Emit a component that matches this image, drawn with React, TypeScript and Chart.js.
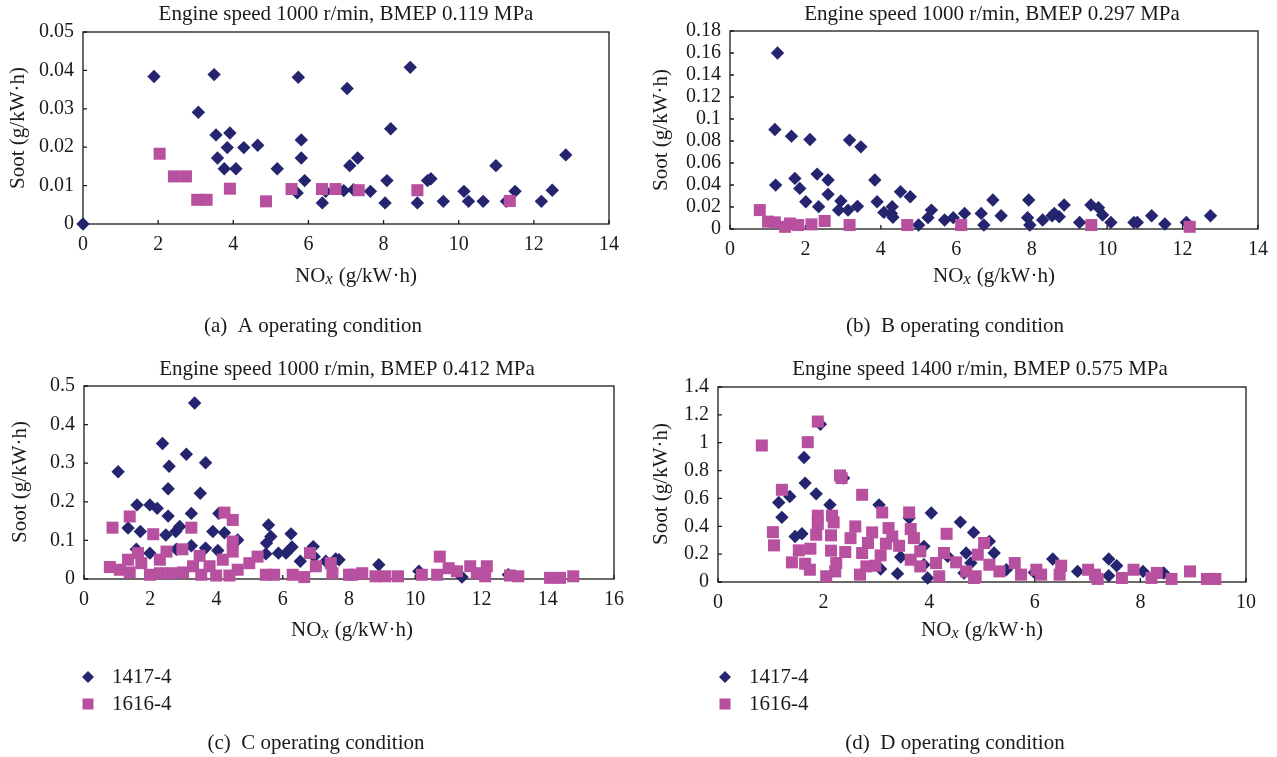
import React, { useEffect, useRef } from 'react';
import { Chart, registerables } from 'chart.js';

Chart.register(...registerables);

// ---------- data: [NOx (g/kW·h), Soot (g/kW·h)] ----------
const SERIES_NAMES = ['1417-4', '1616-4'];

const A_1417: [number, number][] = [
  [0, 0], [1.89, 0.0384], [3.49, 0.0389], [5.73, 0.0382], [7.03, 0.0353], [8.71, 0.0408],
  [3.07, 0.0291], [8.19, 0.0248], [3.54, 0.0232], [3.91, 0.0237], [5.81, 0.0219],
  [3.84, 0.0199], [4.28, 0.0199], [4.65, 0.0205], [3.58, 0.0172], [5.81, 0.0172],
  [7.31, 0.0172], [12.85, 0.018], [3.76, 0.0144], [4.07, 0.0144], [5.17, 0.0144],
  [7.1, 0.0152], [10.99, 0.0152], [5.9, 0.0113], [8.09, 0.0113], [9.17, 0.0113],
  [9.26, 0.0118], [5.7, 0.0081], [6.46, 0.0085], [6.94, 0.0087], [7.2, 0.0089],
  [7.65, 0.0085], [10.14, 0.0085], [11.5, 0.0085], [12.49, 0.0088], [6.37, 0.0055],
  [8.04, 0.0055], [8.9, 0.0055], [9.59, 0.0059], [10.26, 0.0059], [10.65, 0.0059],
  [11.27, 0.0059], [12.2, 0.0059],
];
const A_1616: [number, number][] = [
  [2.04, 0.0183], [2.42, 0.0124], [2.74, 0.0124], [3.04, 0.0063], [3.29, 0.0063],
  [3.91, 0.0092], [4.87, 0.0059], [5.55, 0.0091], [6.36, 0.0091], [6.72, 0.0091],
  [7.34, 0.0088], [8.9, 0.0088], [11.36, 0.006],
];

const B_1417: [number, number][] = [
  [1.26, 0.16], [1.19, 0.0905], [1.63, 0.0844], [2.12, 0.0814], [3.17, 0.0808], [3.47, 0.0747],
  [1.21, 0.0399], [1.72, 0.046], [1.85, 0.0369], [2.31, 0.0499], [2.6, 0.0445], [2.01, 0.0248],
  [2.35, 0.0203], [2.6, 0.0315], [2.94, 0.0254], [2.88, 0.0172], [3.13, 0.0172], [3.38, 0.0206],
  [3.84, 0.0445], [3.9, 0.0248], [4.08, 0.0151], [4.28, 0.0142], [4.3, 0.0203], [4.32, 0.0106],
  [4.52, 0.0339], [4.78, 0.0293], [5.0, 0.0036], [5.25, 0.0103], [5.34, 0.0172], [5.69, 0.0082],
  [5.92, 0.0103], [6.22, 0.0142], [6.66, 0.0142], [6.73, 0.0036], [6.97, 0.0263], [7.19, 0.0121],
  [7.92, 0.0263], [7.89, 0.0103], [7.95, 0.0036], [8.29, 0.0082], [8.54, 0.0121], [8.73, 0.0112],
  [8.86, 0.0218], [8.6, 0.0142], [9.27, 0.006], [9.57, 0.0218], [9.77, 0.0194], [9.88, 0.0127],
  [10.1, 0.006], [10.71, 0.006], [10.8, 0.006], [11.18, 0.0121], [11.53, 0.0045], [12.1, 0.006],
  [12.74, 0.0121],
];
const B_1616: [number, number][] = [
  [0.79, 0.0172], [1.01, 0.0067], [1.19, 0.006], [1.46, 0.002], [1.59, 0.005], [1.81, 0.0036],
  [2.16, 0.0042], [2.51, 0.0073], [3.17, 0.0036], [4.7, 0.0036], [6.13, 0.0036], [9.58, 0.0036],
  [12.19, 0.002],
];

const C_1417: [number, number][] = [
  [3.34, 0.456], [2.37, 0.351], [3.09, 0.323], [2.57, 0.292], [3.67, 0.301], [1.03, 0.278],
  [2.54, 0.234], [3.51, 0.222], [1.6, 0.192], [1.99, 0.192], [2.21, 0.183], [2.54, 0.163],
  [3.24, 0.17], [4.07, 0.17], [1.33, 0.132], [1.7, 0.123], [2.47, 0.114], [2.77, 0.123],
  [2.89, 0.136], [3.89, 0.123], [4.24, 0.12], [4.64, 0.101], [1.58, 0.077], [1.99, 0.067],
  [2.79, 0.077], [3.24, 0.086], [3.67, 0.08], [4.04, 0.074], [5.57, 0.14], [5.64, 0.11],
  [5.51, 0.093], [5.49, 0.065], [5.87, 0.067], [6.1, 0.067], [6.25, 0.117], [6.28, 0.083],
  [6.53, 0.046], [6.92, 0.084], [6.95, 0.058], [7.3, 0.046], [7.6, 0.052], [7.7, 0.05],
  [8.9, 0.037], [10.11, 0.02], [11.41, 0.005], [12.81, 0.011],
];
const C_1616: [number, number][] = [
  [0.86, 0.133], [1.38, 0.162], [2.09, 0.116], [3.24, 0.133], [4.24, 0.172], [4.49, 0.153],
  [4.49, 0.097], [4.49, 0.071], [4.19, 0.05], [1.63, 0.067], [2.49, 0.071], [2.97, 0.077],
  [2.29, 0.05], [3.49, 0.06], [1.33, 0.05], [0.78, 0.031], [1.08, 0.024], [1.38, 0.017],
  [1.73, 0.041], [1.99, 0.011], [2.29, 0.015], [2.64, 0.015], [2.99, 0.017], [3.29, 0.033],
  [3.54, 0.011], [3.79, 0.033], [3.99, 0.009], [4.39, 0.009], [4.64, 0.024], [4.99, 0.041],
  [5.24, 0.058], [5.49, 0.011], [5.74, 0.011], [6.3, 0.011], [6.65, 0.005], [6.82, 0.067],
  [7.0, 0.033], [7.45, 0.041], [7.5, 0.015], [8.0, 0.011], [8.1, 0.011], [8.4, 0.015],
  [8.8, 0.007], [9.1, 0.007], [9.48, 0.007], [10.2, 0.011], [10.66, 0.011], [10.74, 0.058],
  [11.01, 0.028], [11.26, 0.02], [11.66, 0.033], [11.86, 0.015], [12.11, 0.007], [12.16, 0.033],
  [12.86, 0.009], [13.11, 0.007], [14.07, 0.003], [14.37, 0.003], [14.77, 0.007],
];

const D_1417: [number, number][] = [
  [1.94, 1.133], [1.63, 0.894], [1.65, 0.71], [1.86, 0.633], [1.36, 0.614], [1.15, 0.571],
  [1.21, 0.464], [2.38, 0.746], [2.12, 0.554], [3.05, 0.554], [3.62, 0.459], [4.04, 0.495],
  [4.59, 0.43], [4.84, 0.356], [1.46, 0.327], [1.59, 0.346], [3.9, 0.256], [3.46, 0.179],
  [3.4, 0.06], [3.08, 0.093], [3.97, 0.029], [3.9, 0.124], [4.7, 0.208], [4.66, 0.065],
  [4.35, 0.184], [5.14, 0.292], [5.23, 0.208], [5.46, 0.088], [6.34, 0.165], [6.81, 0.076],
  [7.4, 0.165], [7.55, 0.117], [7.4, 0.045], [8.05, 0.076], [8.44, 0.065], [4.79, 0.136],
  [5.99, 0.069],
];
const D_1616: [number, number][] = [
  [1.89, 1.152], [0.83, 0.98], [1.7, 1.004], [2.31, 0.765], [2.34, 0.746], [1.21, 0.662],
  [2.73, 0.626], [1.89, 0.476], [2.16, 0.476], [2.19, 0.428], [1.89, 0.416], [3.11, 0.499],
  [3.62, 0.499], [2.6, 0.399], [1.04, 0.358], [1.06, 0.263], [1.86, 0.339], [2.14, 0.335],
  [2.51, 0.315], [2.92, 0.356], [3.23, 0.387], [3.65, 0.38], [3.71, 0.315], [4.33, 0.346],
  [2.84, 0.28], [3.3, 0.327], [3.43, 0.26], [3.18, 0.275], [1.53, 0.227], [1.75, 0.239],
  [2.14, 0.225], [2.41, 0.215], [2.73, 0.208], [3.08, 0.191], [1.4, 0.141], [1.65, 0.131],
  [1.74, 0.088], [2.24, 0.136], [2.22, 0.076], [2.05, 0.041], [2.69, 0.053], [2.81, 0.112],
  [2.98, 0.117], [3.65, 0.16], [3.83, 0.22], [3.83, 0.112], [4.13, 0.136], [4.19, 0.041],
  [4.28, 0.208], [4.51, 0.141], [4.7, 0.076], [4.85, 0.029], [4.92, 0.196], [5.04, 0.28],
  [5.14, 0.124], [5.33, 0.076], [4.88, 0.041], [5.62, 0.136], [5.74, 0.053], [6.03, 0.088],
  [6.12, 0.053], [6.5, 0.117], [6.47, 0.053], [7.01, 0.088], [7.14, 0.053], [7.19, 0.022],
  [7.65, 0.029], [7.87, 0.088], [8.21, 0.029], [8.31, 0.065], [8.59, 0.022], [8.94, 0.076],
  [9.26, 0.022], [9.42, 0.022],
];

const TITLES = [
  'Engine speed 1000 r/min, BMEP 0.119 MPa',
  'Engine speed 1000 r/min, BMEP 0.297 MPa',
  'Engine speed 1000 r/min, BMEP 0.412 MPa',
  'Engine speed 1400 r/min, BMEP 0.575 MPa',
];
const CAPTIONS = [
  '(a)  A operating condition',
  '(b)  B operating condition',
  '(c)  C operating condition',
  '(d)  D operating condition',
];
const Y_TITLE = 'Soot (g/kW·h)';
const X_TITLE_MAIN = 'NO';
const X_TITLE_SUB = 'x';
const X_TITLE_REST = ' (g/kW·h)';

// ---------- layout / style ----------
const W = 1277;
const H = 757;
const NAVY = '#25246f';
const PINK = '#b7519f';
const INK = '#1a1a1a';
const FAMILY = '"Liberation Serif", "Times New Roman", serif';
const TXT = 21;
const TICK = 20;
const Y_W = 70;
const X_H = 40;

type Panel = {
  key: string;
  area: { l: number; r: number; t: number; b: number };
  xMax: number; xStep: number; yMax: number; yStep: number;
  title: string; titleX: number; titleY: number;
  xTitleX: number; xTitleY: number;
  yTitleX: number; yTitleY: number;
  caption: string; capX: number; capY: number;
  legend: null | { mx: number; tx: number; y1: number; y2: number };
  s1: [number, number][]; s2: [number, number][];
};

const PANELS: Panel[] = [
  {
    key: 'a', area: { l: 83, r: 609, t: 32, b: 224 },
    xMax: 14, xStep: 2, yMax: 0.05, yStep: 0.01,
    title: TITLES[0], titleX: 346, titleY: 14,
    xTitleX: 356, xTitleY: 276, yTitleX: 18, yTitleY: 128,
    caption: CAPTIONS[0], capX: 313, capY: 326, legend: null,
    s1: A_1417, s2: A_1616,
  },
  {
    key: 'b', area: { l: 730, r: 1259, t: 31, b: 229 },
    xMax: 14, xStep: 2, yMax: 0.18, yStep: 0.02,
    title: TITLES[1], titleX: 992, titleY: 14,
    xTitleX: 994, xTitleY: 276, yTitleX: 661, yTitleY: 130,
    caption: CAPTIONS[1], capX: 955, capY: 326, legend: null,
    s1: B_1417, s2: B_1616,
  },
  {
    key: 'c', area: { l: 84, r: 614, t: 386, b: 579 },
    xMax: 16, xStep: 2, yMax: 0.5, yStep: 0.1,
    title: TITLES[2], titleX: 347, titleY: 369,
    xTitleX: 352, xTitleY: 630, yTitleX: 20, yTitleY: 482,
    caption: CAPTIONS[2], capX: 316, capY: 743,
    legend: { mx: 88, tx: 112, y1: 677, y2: 704 },
    s1: C_1417, s2: C_1616,
  },
  {
    key: 'd', area: { l: 718, r: 1246, t: 387, b: 582 },
    xMax: 10, xStep: 2, yMax: 1.4, yStep: 0.2,
    title: TITLES[3], titleX: 980, titleY: 369,
    xTitleX: 982, xTitleY: 630, yTitleX: 661, yTitleY: 484,
    caption: CAPTIONS[3], capX: 955, capY: 743,
    legend: { mx: 725, tx: 749, y1: 677, y2: 704 },
    s1: D_1417, s2: D_1616,
  },
];

const fmt = (v: number | string) => String(parseFloat(Number(v).toFixed(4)));

function drawDiamond(ctx: CanvasRenderingContext2D, x: number, y: number, r: number) {
  ctx.beginPath();
  ctx.moveTo(x - r, y);
  ctx.lineTo(x, y - r);
  ctx.lineTo(x + r, y);
  ctx.lineTo(x, y + r);
  ctx.closePath();
  ctx.fill();
}

function makePlugin(p: Panel) {
  return {
    id: 'panelDecor' + p.key,
    beforeDatasetsDraw(chart: any) {
      const { ctx, chartArea: ca } = chart;
      const xs = chart.scales.x;
      const ys = chart.scales.y;
      ctx.save();
      ctx.strokeStyle = INK;
      ctx.lineWidth = 1.3;
      ctx.strokeRect(ca.left, ca.top, ca.right - ca.left, ca.bottom - ca.top);
      ctx.beginPath();
      xs.ticks.forEach((t: any) => {
        const px = xs.getPixelForValue(t.value);
        ctx.moveTo(px, ca.bottom);
        ctx.lineTo(px, ca.bottom - 4);
      });
      ys.ticks.forEach((t: any) => {
        const py = ys.getPixelForValue(t.value);
        ctx.moveTo(ca.left, py);
        ctx.lineTo(ca.left + 4, py);
      });
      ctx.stroke();
      ctx.restore();
    },
    afterDraw(chart: any) {
      const ctx: CanvasRenderingContext2D = chart.ctx;
      ctx.save();
      ctx.fillStyle = INK;
      ctx.textBaseline = 'middle';
      ctx.font = `${TXT}px ${FAMILY}`;
      // title
      ctx.textAlign = 'center';
      ctx.fillText(p.title, p.titleX, p.titleY);
      // caption
      ctx.fillText(p.caption, p.capX, p.capY);
      // x axis title with subscript
      ctx.textAlign = 'left';
      const mainFont = `${TXT}px ${FAMILY}`;
      const subFont = `italic ${Math.round(TXT * 0.75)}px ${FAMILY}`;
      ctx.font = mainFont;
      const w1 = ctx.measureText(X_TITLE_MAIN).width;
      const w3 = ctx.measureText(X_TITLE_REST).width;
      ctx.font = subFont;
      const w2 = ctx.measureText(X_TITLE_SUB).width + 1;
      const total = w1 + w2 + w3;
      const x0 = p.xTitleX - total / 2;
      ctx.font = mainFont;
      ctx.fillText(X_TITLE_MAIN, x0, p.xTitleY);
      ctx.font = subFont;
      ctx.fillText(X_TITLE_SUB, x0 + w1, p.xTitleY + 4);
      ctx.font = mainFont;
      ctx.fillText(X_TITLE_REST, x0 + w1 + w2, p.xTitleY);
      // y axis title
      ctx.save();
      ctx.translate(p.yTitleX, p.yTitleY);
      ctx.rotate(-Math.PI / 2);
      ctx.textAlign = 'center';
      ctx.fillText(Y_TITLE, 0, 0);
      ctx.restore();
      // legend
      if (p.legend) {
        const L = p.legend;
        ctx.fillStyle = NAVY;
        drawDiamond(ctx, L.mx, L.y1, 6);
        ctx.fillStyle = PINK;
        ctx.fillRect(L.mx - 5.5, L.y2 - 5.5, 11, 11);
        ctx.fillStyle = INK;
        ctx.textAlign = 'left';
        ctx.font = mainFont;
        ctx.fillText(SERIES_NAMES[0], L.tx, L.y1);
        ctx.fillText(SERIES_NAMES[1], L.tx, L.y2);
      }
      ctx.restore();
    },
  };
}

function buildConfig(p: Panel): any {
  const tickFont = { family: FAMILY, size: TICK };
  return {
    type: 'scatter',
    data: {
      datasets: [
        {
          label: SERIES_NAMES[0],
          data: p.s1.map(([x, y]) => ({ x, y })),
          pointStyle: 'rectRot',
          pointRadius: 6.7,
          pointHoverRadius: 6.7,
          backgroundColor: NAVY,
          pointBackgroundColor: NAVY,
          borderWidth: 0,
          pointBorderWidth: 0,
          order: 2,
          clip: false,
        },
        {
          label: SERIES_NAMES[1],
          data: p.s2.map(([x, y]) => ({ x, y })),
          pointStyle: 'rect',
          pointRadius: 8.5,
          pointHoverRadius: 8.5,
          backgroundColor: PINK,
          pointBackgroundColor: PINK,
          borderWidth: 0,
          pointBorderWidth: 0,
          order: 1,
          clip: false,
        },
      ],
    },
    options: {
      responsive: false,
      animation: false,
      devicePixelRatio: 1,
      events: [],
      layout: {
        padding: {
          left: p.area.l - Y_W,
          right: W - p.area.r,
          top: p.area.t,
          bottom: H - p.area.b - X_H,
        },
      },
      plugins: {
        legend: { display: false },
        tooltip: { enabled: false },
        title: { display: false },
      },
      scales: {
        x: {
          type: 'linear',
          min: 0,
          max: p.xMax,
          grid: { display: false, drawTicks: false },
          border: { display: false },
          ticks: {
            stepSize: p.xStep,
            autoSkip: false,
            maxRotation: 0,
            color: INK,
            font: tickFont,
            padding: 9,
            callback: (v: number) => fmt(v),
          },
          afterFit: (s: any) => { s.height = X_H; },
        },
        y: {
          type: 'linear',
          min: 0,
          max: p.yMax,
          grid: { display: false, drawTicks: false },
          border: { display: false },
          ticks: {
            stepSize: p.yStep,
            autoSkip: false,
            color: INK,
            font: tickFont,
            padding: 9,
            callback: (v: number) => fmt(v),
          },
          afterFit: (s: any) => { s.width = Y_W; },
        },
      },
    },
    plugins: [makePlugin(p)],
  };
}

function PanelChart({ p }: { p: Panel }) {
  const ref = useRef<HTMLCanvasElement | null>(null);
  useEffect(() => {
    if (!ref.current) return;
    const chart = new Chart(ref.current, buildConfig(p));
    return () => chart.destroy();
  }, [p]);
  return (
    <canvas
      ref={ref}
      width={W}
      height={H}
      style={{ position: 'absolute', left: 0, top: 0, width: W, height: H }}
    />
  );
}

export default function App() {
  return (
    <div
      style={{
        position: 'absolute', left: 0, top: 0, width: W, height: H,
        background: '#fff', overflow: 'hidden',
      }}
    >
      {PANELS.map((p) => (
        <PanelChart key={p.key} p={p} />
      ))}
    </div>
  );
}
